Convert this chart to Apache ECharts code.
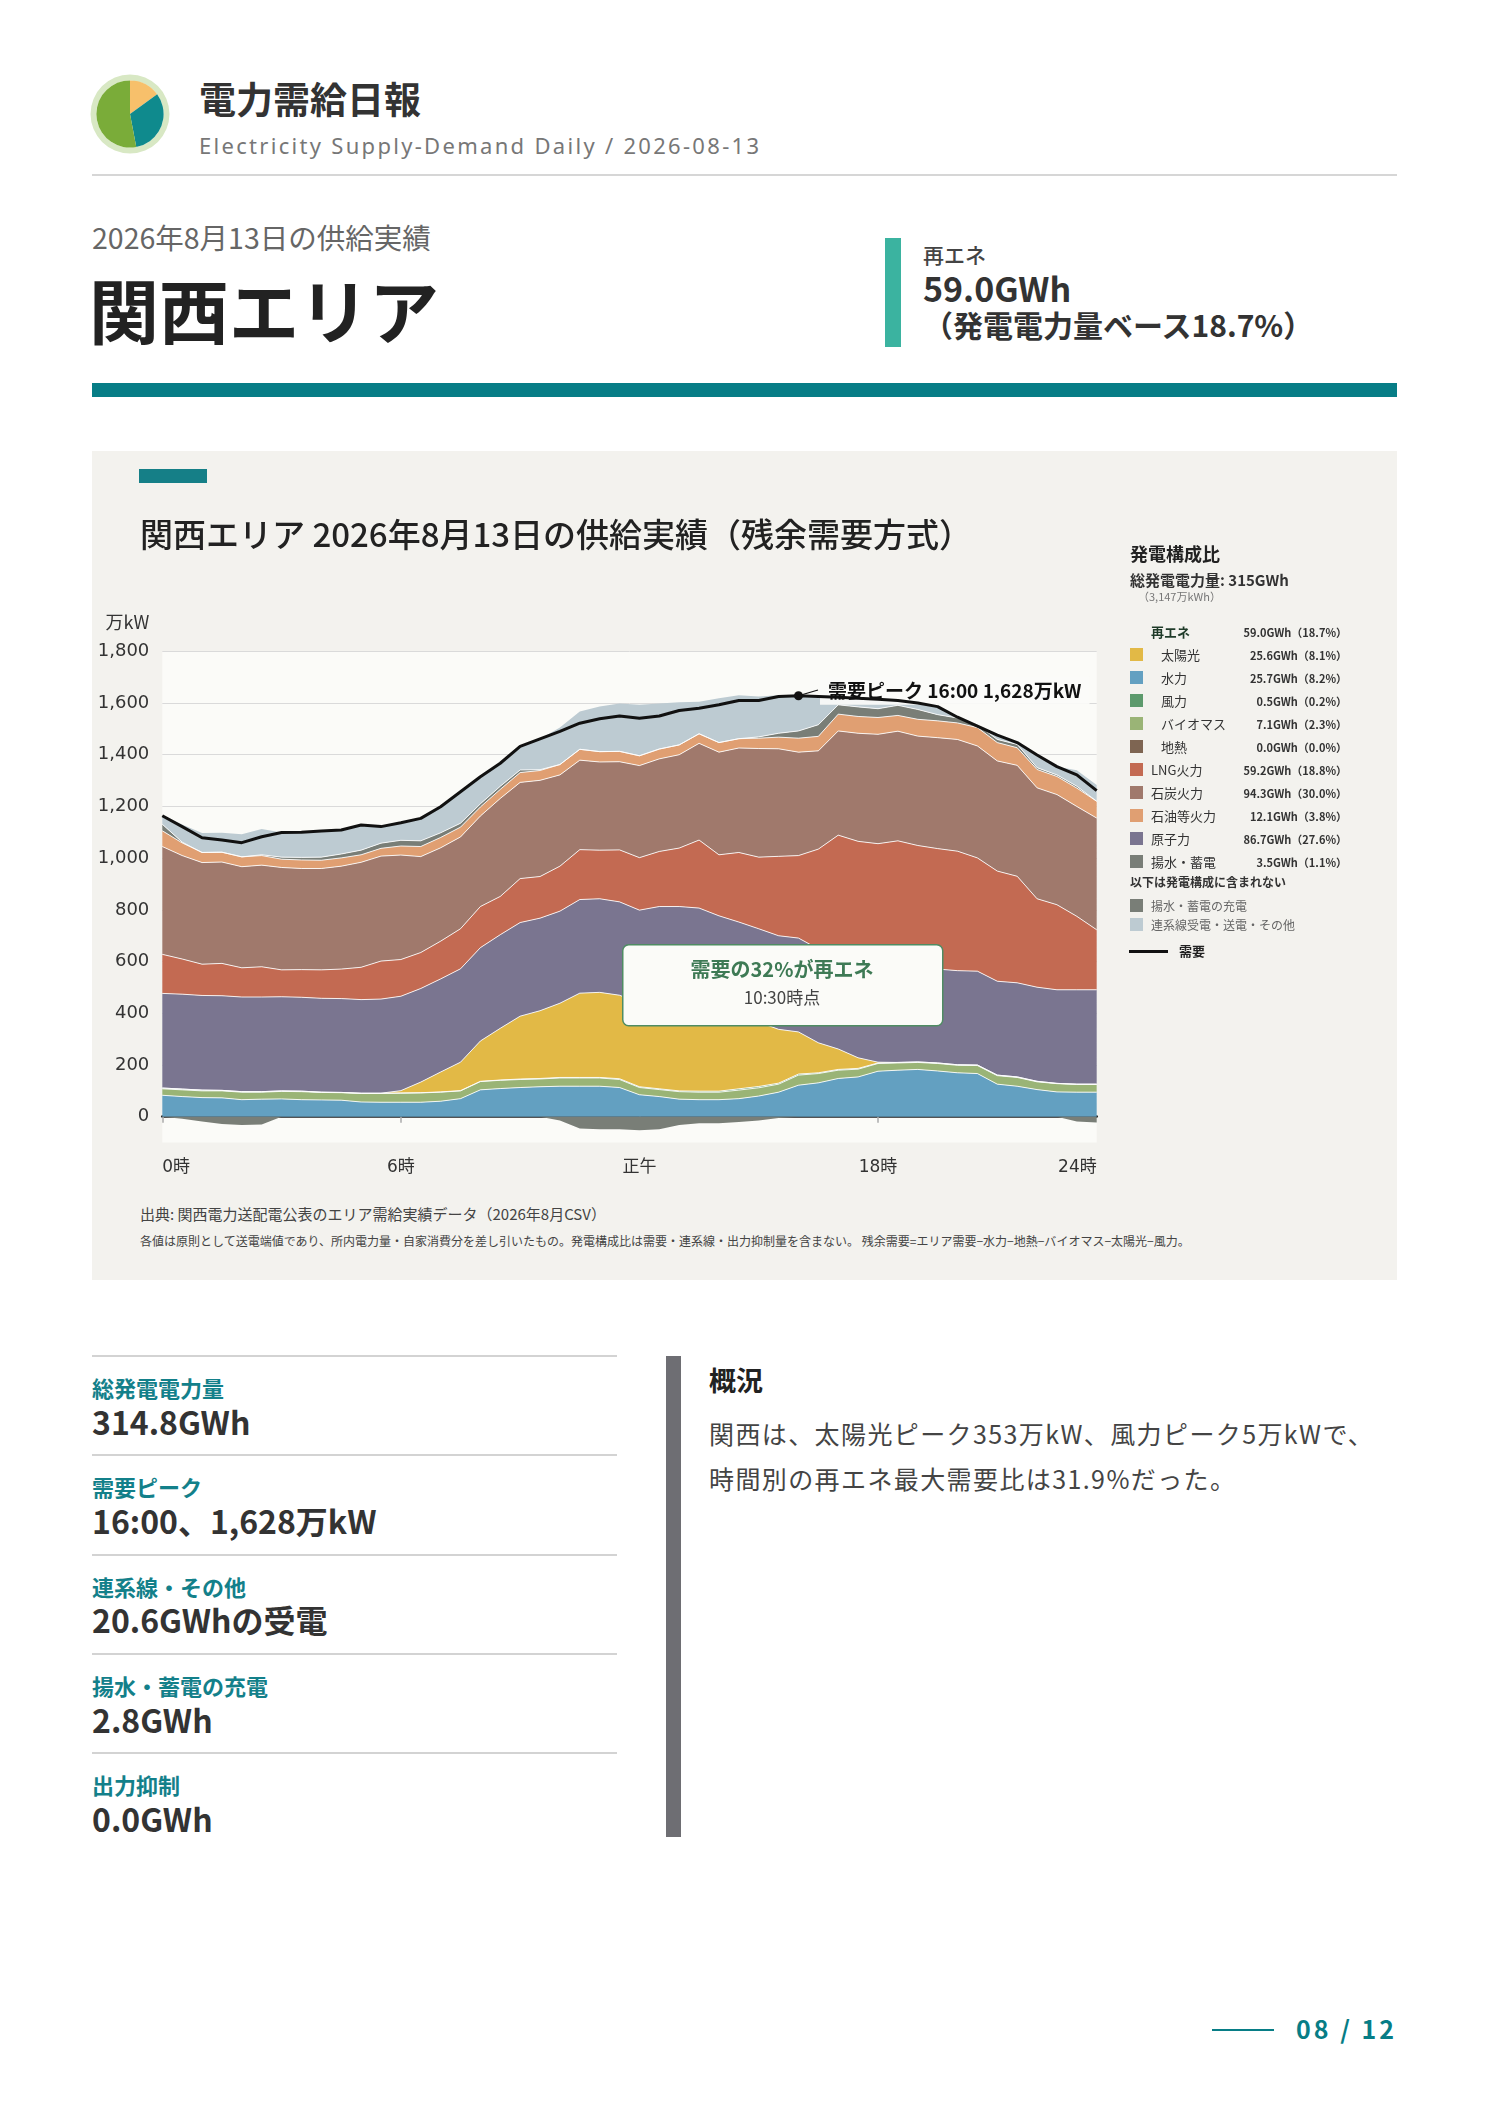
<!DOCTYPE html>
<html lang="ja">
<head>
<meta charset="utf-8">
<title>電力需給日報 関西エリア 2026-08-13</title>
<script src="https://cdn.jsdelivr.net/npm/echarts@6/dist/echarts.min.js"></script>
<style>
  html, body { margin: 0; padding: 0; background: #fff; }
  body { font-family: "Noto Sans CJK JP", "Noto Sans", sans-serif; color: #333; }
  #page { position: relative; width: 1488px; height: 2105px; overflow: hidden; }
  .t { position: absolute; white-space: nowrap; }
  .bar { position: absolute; }
  .kpi-l { position: absolute; left: 92px; font-size: 22px; line-height: 26px; font-weight: 700; color: #13808a; }
  .kpi-v { position: absolute; left: 92px; font-size: 32px; line-height: 36px; font-weight: 700; color: #333; }
  .kpi-rule { position: absolute; left: 92px; width: 525px; height: 2px; background: #d3d3d3; }
  #legend .t { z-index: 3; }
</style>
</head>
<body>
<div id="page">
  <!-- ヘッダー -->
  <div id="logo" style="position:absolute;left:88px;top:72px;width:84px;height:84px;"></div>
  <div class="t" style="left:199px;top:77px;font-size:37px;line-height:42px;font-weight:700;color:#333;">電力需給日報</div>
  <div class="t" style="left:199px;top:131px;font-size:22px;line-height:28px;color:#777;letter-spacing:2.3px;font-family:'Noto Sans',sans-serif;">Electricity Supply-Demand Daily / 2026-08-13</div>
  <div class="bar" style="left:92px;top:174px;width:1305px;height:2px;background:#d6d6d6;"></div>

  <div class="t" style="left:92px;top:221px;font-size:28.5px;line-height:32px;color:#666;">2026年8月13日の供給実績</div>
  <div class="t" style="left:89px;top:267px;font-size:70px;line-height:84px;font-weight:700;color:#222;">関西エリア</div>

  <div class="bar" style="left:885px;top:238px;width:16px;height:109px;background:#3bb3a0;"></div>
  <div class="t" style="left:923px;top:241px;font-size:21px;line-height:26px;font-weight:500;color:#444;">再エネ</div>
  <div class="t" style="left:923px;top:268px;font-size:34px;line-height:40px;font-weight:700;color:#333;">59.0GWh</div>
  <div class="t" style="left:923px;top:306px;font-size:30px;line-height:36px;font-weight:700;color:#333;">（発電電力量ベース18.7%）</div>

  <div class="bar" style="left:92px;top:383px;width:1305px;height:14px;background:#077d86;"></div>

  <!-- チャートパネル -->
  <div class="bar" style="left:92px;top:451px;width:1305px;height:829px;background:#f3f2ee;"></div>
  <div class="bar" style="left:139px;top:469px;width:68px;height:14px;background:#157f87;"></div>
  <div class="t" style="left:140px;top:513px;font-size:33px;line-height:40px;font-weight:500;color:#222;z-index:3;">関西エリア 2026年8月13日の供給実績（残余需要方式）</div>
  <div id="chart" style="position:absolute;left:92px;top:451px;width:1305px;height:829px;z-index:1;"></div>
  <div id="legend"></div>
  <div class="t" style="left:140px;top:1204px;font-size:15px;line-height:20px;color:#444;">出典: 関西電力送配電公表のエリア需給実績データ（2026年8月CSV）</div>
  <div class="t" style="left:140px;top:1233px;font-size:12px;line-height:16px;color:#444;">各値は原則として送電端値であり、所内電力量・自家消費分を差し引いたもの。発電構成比は需要・連系線・出力抑制量を含まない。 残余需要=エリア需要−水力−地熱−バイオマス−太陽光−風力。</div>

  <!-- 指標 -->
  <div class="kpi-rule" style="top:1355px;"></div>
  <div class="kpi-l" style="top:1374px;">総発電電力量</div>
  <div class="kpi-v" style="top:1403px;">314.8GWh</div>
  <div class="kpi-rule" style="top:1454px;"></div>
  <div class="kpi-l" style="top:1473px;">需要ピーク</div>
  <div class="kpi-v" style="top:1502px;">16:00、1,628万kW</div>
  <div class="kpi-rule" style="top:1554px;"></div>
  <div class="kpi-l" style="top:1573px;">連系線・その他</div>
  <div class="kpi-v" style="top:1601px;">20.6GWhの受電</div>
  <div class="kpi-rule" style="top:1653px;"></div>
  <div class="kpi-l" style="top:1672px;">揚水・蓄電の充電</div>
  <div class="kpi-v" style="top:1701px;">2.8GWh</div>
  <div class="kpi-rule" style="top:1752px;"></div>
  <div class="kpi-l" style="top:1771px;">出力抑制</div>
  <div class="kpi-v" style="top:1800px;">0.0GWh</div>

  <!-- 概況 -->
  <div class="bar" style="left:666px;top:1356px;width:15px;height:481px;background:#6e6e73;"></div>
  <div class="t" style="left:709px;top:1364px;font-size:27px;line-height:32px;font-weight:700;color:#222;">概況</div>
  <div class="t" style="left:709px;top:1411px;font-size:25px;line-height:45px;color:#444;letter-spacing:1.4px;">関西は、太陽光ピーク353万kW、風力ピーク5万kWで、<br>時間別の再エネ最大需要比は31.9%だった。</div>

  <!-- フッター -->
  <div class="bar" style="left:1212px;top:2029px;width:62px;height:2px;background:#077d86;"></div>
  <div class="t" style="left:1296px;top:2013px;font-size:25px;line-height:30px;font-weight:700;color:#077d86;letter-spacing:3px;">08 / 12</div>
</div>

<script>
// 30分値（万kW）
const timeLabels = ['0:00','0:30','1:00','1:30','2:00','2:30','3:00','3:30','4:00','4:30','5:00','5:30',
  '6:00','6:30','7:00','7:30','8:00','8:30','9:00','9:30','10:00','10:30','11:00','11:30',
  '12:00','12:30','13:00','13:30','14:00','14:30','15:00','15:30','16:00','16:30','17:00','17:30',
  '18:00','18:30','19:00','19:30','20:00','20:30','21:00','21:30','22:00','22:30','23:00','23:30'];

const hydro = [83,78,74,73,66,68,69,66,65,64,57,56,56,56,60,70,104,109,113,116,118,118,118,113,
  85,78,68,66,66,70,80,95,122,131,148,154,176,180,183,177,170,167,126,118,105,96,95,95];
const biomass = [25,26,26,27,29,27,29,31,29,29,33,34,35,36,35,30,32,32,31,30,32,32,32,31,
  28,27,29,29,29,33,32,31,39,36,32,30,30,28,27,29,29,31,33,34,30,32,30,30];
const wind = [3,3,3,2,2,2,2,2,1,1,1,1,1,1,1,1,1,1,2,2,2,2,2,3,
  3,3,3,4,4,5,5,4,4,3,3,3,2,2,2,2,2,2,2,2,2,1,1,1];
const solar = [0,0,0,0,0,0,0,0,0,0,0,0,9,41,77,110,156,200,243,262,287,326,329,323,
  323,345,353,348,318,284,249,208,163,116,79,41,3,0,0,0,0,0,0,0,0,0,0,0];
const nuclear = [366,367,366,366,366,366,364,363,363,363,362,364,365,362,360,361,361,362,362,358,356,362,362,361,
  360,360,360,360,360,361,361,362,363,363,363,363,363,363,363,363,364,363,363,364,364,362,365,365];
const lng = [151,136,121,125,113,117,104,107,110,114,125,147,142,139,146,155,159,148,170,161,174,193,188,201,
  203,213,226,263,236,269,277,307,319,386,464,474,482,494,474,466,462,438,426,412,342,329,284,232];
const coal = [417,400,393,392,391,393,396,391,392,398,406,406,404,371,361,355,350,379,372,372,353,346,341,341,
  356,358,361,374,397,404,420,416,400,380,403,418,423,424,423,429,432,433,426,429,429,426,425,432];
const oil = [61,49,39,38,38,37,32,33,32,32,29,30,35,39,40,38,35,35,38,38,40,42,40,40,
  38,38,38,37,37,36,40,45,54,56,65,65,65,61,65,65,64,71,71,68,71,70,71,65];
const pumpedGen = [25,3,0,0,0,3,8,10,12,15,18,20,22,22,18,15,12,12,10,3,0,0,0,0,
  0,0,0,0,0,0,5,15,28,45,36,37,34,39,38,24,19,12,12,13,7,6,7,0];
const interconnect = [33,68,75,75,87,100,95,97,101,93,97,64,68,87,101,122,105,89,91,119,143,146,175,185,
  197,176,165,124,171,168,156,147,136,109,29,33,37,19,25,31,3,0,17,7,49,32,62,63];
const pumpedCharge = [0,-8,-18,-28,-32,-30,0,0,0,0,0,0,0,0,0,0,0,0,0,0,-15,-45,-48,-48,
  -52,-48,-32,-25,-25,-20,-15,-5,0,0,0,0,0,0,0,0,0,0,0,0,0,0,-18,-22];
const demand = [1164,1122,1079,1070,1060,1083,1099,1100,1105,1109,1128,1122,1137,1154,1199,1257,1315,1367,1432,1461,1490,1522,1539,1550,
  1541,1550,1571,1580,1593,1610,1610,1625,1628,1625,1622,1618,1615,1610,1600,1586,1545,1511,1476,1447,1399,1354,1322,1261];

// 軸ラベル
const yTicks = [0,200,400,600,800,1000,1200,1400,1600,1800];
const xTickIdx = [0,12,24,36,47];
const xTickText = ['0時','6時','正午','18時','24時'];
const peakTime = '16:00';
const peakValue = 1628;

// 発電構成比（凡例）
const mixNames = ['太陽光','水力','風力','バイオマス','地熱','LNG火力','石炭火力','石油等火力','原子力','揚水・蓄電'];
const mixGWh = [25.6,25.7,0.5,7.1,0.0,59.2,94.3,12.1,86.7,3.5];
const mixPct = [8.1,8.2,0.2,2.3,0.0,18.8,30.0,3.8,27.6,1.1];
const renewGWh = 59.0, renewPct = 18.7;

// ロゴの円グラフ
const logoShares = [15,32,53];

const colors = {
  '太陽光':'#e2b946', '水力':'#63a0c1', '風力':'#5c9a6c', 'バイオマス':'#9ab476', '地熱':'#7e6552',
  'LNG火力':'#c36a52', '石炭火力':'#a0796c', '石油等火力':'#e09f72', '原子力':'#7a7590',
  '揚水・蓄電':'#797e77', '連系線':'#bdcbd2'
};

const FONT = '"Noto Sans CJK JP", "Noto Sans", sans-serif';
const NUMFONT = '"DejaVu Sans", "Noto Sans CJK JP", sans-serif';

// ---- 凡例 (HTML) ----
(function buildLegend() {
  const box = document.getElementById('legend');
  let html = '';
  const add = (s) => { html += s; };
  add('<div class="t" style="left:1130px;top:541px;font-size:18px;line-height:24px;font-weight:700;color:#222;">発電構成比</div>');
  add('<div class="t" style="left:1130px;top:570px;font-size:15px;line-height:20px;font-weight:700;color:#333;">総発電電力量: 315GWh</div>');
  add('<div class="t" style="left:1138px;top:589px;font-size:11px;line-height:14px;color:#777;">（3,147万kWh）</div>');
  add('<div class="t" style="left:1151px;top:624px;font-size:13px;line-height:16px;font-weight:700;color:#1f3b29;">再エネ</div>');
  add('<div class="t" style="left:1207px;top:625px;width:140px;text-align:right;font-size:11px;line-height:14px;font-weight:600;color:#333;">' +
      renewGWh.toFixed(1) + 'GWh（' + renewPct.toFixed(1) + '%）</div>');
  mixNames.forEach((n, i) => {
    const cy = 655 + i * 23;
    const lx = i < 5 ? 1161 : 1151;
    add('<div class="bar" style="left:1130px;top:' + (cy - 7) + 'px;width:13px;height:13px;background:' + colors[n] + ';z-index:3;"></div>');
    add('<div class="t" style="left:' + lx + 'px;top:' + (cy - 8) + 'px;font-size:13px;line-height:16px;color:#333;z-index:3;">' + n + '</div>');
    add('<div class="t" style="left:1207px;top:' + (cy - 7) + 'px;width:140px;text-align:right;font-size:11px;line-height:14px;font-weight:600;color:#333;z-index:3;">' +
        mixGWh[i].toFixed(1) + 'GWh（' + mixPct[i].toFixed(1) + '%）</div>');
  });
  add('<div class="t" style="left:1130px;top:874px;font-size:12px;line-height:16px;font-weight:700;color:#333;">以下は発電構成に含まれない</div>');
  add('<div class="bar" style="left:1130px;top:899px;width:13px;height:13px;background:' + colors['揚水・蓄電'] + ';z-index:3;"></div>');
  add('<div class="t" style="left:1151px;top:898px;font-size:12px;line-height:16px;color:#666;">揚水・蓄電の充電</div>');
  add('<div class="bar" style="left:1130px;top:918px;width:13px;height:13px;background:' + colors['連系線'] + ';z-index:3;"></div>');
  add('<div class="t" style="left:1151px;top:917px;font-size:12px;line-height:16px;color:#666;">連系線受電・送電・その他</div>');
  add('<div class="bar" style="left:1129px;top:950px;width:39px;height:3px;background:#111;z-index:3;"></div>');
  add('<div class="t" style="left:1179px;top:943px;font-size:13px;line-height:16px;font-weight:700;color:#222;">需要</div>');
  box.innerHTML = html;
})();

// ---- ロゴ ----
const logo = echarts.init(document.getElementById('logo'));
logo.setOption({
  animation: false,
  series: [
    { type: 'pie', radius: ['80%', '94%'], silent: true, label: { show: false },
      data: [{ value: 1, itemStyle: { color: '#d8e8c4' } }] },
    { type: 'pie', radius: [0, '80%'], startAngle: 90, clockwise: true, silent: true,
      label: { show: false }, itemStyle: { borderWidth: 0 },
      data: [
        { value: logoShares[0], itemStyle: { color: '#f7c06b' } },
        { value: logoShares[1], itemStyle: { color: '#0f8a8d' } },
        { value: logoShares[2], itemStyle: { color: '#7aac39' } }
      ] }
  ]
});

// ---- メインチャート ----
const chart = echarts.init(document.getElementById('chart'));

function areaSeries(name, data, color, lineOn) {
  return {
    name: name, type: 'line', stack: 'supply', data: data,
    symbol: 'none', silent: true,
    lineStyle: lineOn === false ? { width: 0 } : { color: 'rgba(255,255,255,0.85)', width: 1 },
    areaStyle: { color: color, opacity: 1 },
    z: 2
  };
}

const option = {
  animation: false,
  textStyle: { fontFamily: FONT },
  grid: {
    left: 70.3, top: 200.3, width: 934.4, height: 491.3,
    show: true, backgroundColor: '#fbfbf8', borderWidth: 0,
    outerBoundsMode: 'none'
  },
  xAxis: {
    type: 'category', data: timeLabels, boundaryGap: false,
    axisLine: { onZero: true, lineStyle: { color: '#1e1e1e', width: 2.5 } },
    axisTick: { show: true, length: 6, lineStyle: { color: '#aaa', width: 1.5 },
      interval: (idx) => idx === 0 || idx === 12 || idx === 24 || idx === 36 },
    axisLabel: {
      interval: (idx) => xTickIdx.indexOf(idx) >= 0,
      formatter: (v, idx) => xTickText[xTickIdx.indexOf(idx)] || '',
      margin: 16, fontSize: 17, color: '#333', fontFamily: NUMFONT,
      alignMinLabel: 'left', alignMaxLabel: 'right'
    },
    splitLine: { show: false }
  },
  yAxis: {
    type: 'value', min: -100, max: 1800,
    name: '万kW', nameLocation: 'end', nameGap: 20,
    nameTextStyle: { fontSize: 18, color: '#333', align: 'right', padding: [0, 13, 0, 0] },
    axisLine: { show: false },
    axisTick: { show: false, customValues: yTicks },
    axisLabel: { customValues: yTicks, margin: 13, fontSize: 18, color: '#333', fontFamily: NUMFONT,
      formatter: (v) => v.toLocaleString('en-US') },
    splitLine: { show: true, lineStyle: { color: '#dadada', width: 1 } }
  },
  graphic: [
    { type: 'rect', left: 530, top: 493, z: 100,
      shape: { width: 320, height: 81, r: 6 },
      style: { fill: '#fbfbf8', stroke: '#4f8c63', lineWidth: 1.5 } },
    { type: 'text', x: 690, y: 518, z: 101,
      style: { text: '需要の32%が再エネ', font: 'bold 20px ' + FONT, fill: '#3e7a55', align: 'center', verticalAlign: 'middle' } },
    { type: 'text', x: 690, y: 547, z: 101,
      style: { text: '10:30時点', font: '17px ' + FONT, fill: '#444', align: 'center', verticalAlign: 'middle' } }
  ],
  series: [
    areaSeries('水力', hydro, colors['水力']),
    areaSeries('バイオマス', biomass, colors['バイオマス']),
    areaSeries('風力', wind, colors['風力']),
    areaSeries('太陽光', solar, colors['太陽光']),
    areaSeries('原子力', nuclear, colors['原子力']),
    areaSeries('LNG火力', lng, colors['LNG火力']),
    areaSeries('石炭火力', coal, colors['石炭火力']),
    areaSeries('石油等火力', oil, colors['石油等火力']),
    areaSeries('揚水・蓄電', pumpedGen, colors['揚水・蓄電']),
    areaSeries('連系線受電・送電・その他', interconnect, colors['連系線'], false),
    {
      name: '揚水・蓄電の充電', type: 'line', data: pumpedCharge, symbol: 'none', silent: true,
      lineStyle: { width: 0 }, areaStyle: { color: colors['揚水・蓄電'], opacity: 1 }, z: 2
    },
    {
      name: '需要', type: 'line', data: demand, symbol: 'none', silent: true,
      lineStyle: { color: '#111', width: 3 }, z: 5,
      markLine: {
        silent: true, symbol: ['none', 'none'], label: { show: false },
        lineStyle: { color: '#111', width: 1.2, type: 'solid' },
        data: [[{ coord: [peakTime, peakValue] }, { x: 726, y: 239 }]]
      },
      markPoint: {
        silent: true, symbol: 'circle', symbolSize: 9,
        itemStyle: { color: '#111' },
        data: [{ coord: [peakTime, peakValue] }],
        label: {
          show: true, position: 'right', distance: 5, offset: [12, -5],
          formatter: '需要ピーク 16:00 1,628万kW',
          fontSize: 19, fontWeight: 'bold', color: '#111',
          backgroundColor: 'rgba(251,251,248,0.92)', padding: [5, 8, 4, 8]
        }
      }
    }
  ]
};
chart.setOption(option);
</script>
</body>
</html>
